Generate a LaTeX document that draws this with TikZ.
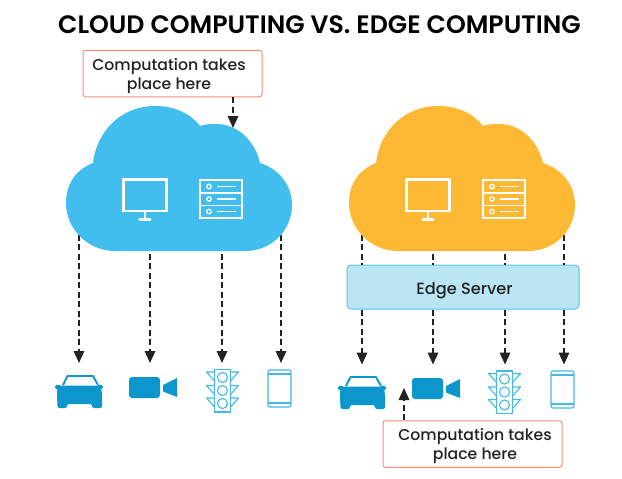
\documentclass[tikz,border=0pt]{standalone}
\usepackage{fontspec}
\setmainfont{Poppins Medium}
\newfontfamily\titlefont{Poppins SemiBold}
\usetikzlibrary{arrows.meta}
\definecolor{skyC}{HTML}{41BEEE}
\definecolor{amberC}{HTML}{FDB933}
\definecolor{inkC}{HTML}{222222}
\definecolor{iconC}{HTML}{0B96CC}
\definecolor{lineC}{HTML}{45B8E6}
\definecolor{coralC}{HTML}{F58F78}
\definecolor{edgeFill}{HTML}{B9E5F4}
\definecolor{edgeLine}{HTML}{5CC3E8}
\newcommand{\lowerA}{\rule{0pt}{17pt}}
\tikzset{
  flowline/.style={draw=inkC,line width=1.7pt,dash pattern=on 6pt off 3.5pt},
  flowarrow/.style={flowline,-{Triangle[width=10.5pt,length=12pt]}},
  callout/.style={draw=coralC,line width=1pt,fill=white,rounded corners=2.5pt,minimum width=179pt,minimum height=46.5pt,inner sep=0pt,align=center,text=inkC,font=\fontsize{15.7}{19}\selectfont},
  edgebox/.style={draw=edgeLine,line width=1pt,fill=edgeFill,rounded corners=4pt,minimum width=232pt,minimum height=44pt,inner sep=0pt,text=inkC,font=\fontsize{16.2}{19}\selectfont},
  whiteicon/.style={draw=white,line width=2.8pt},
  thinwhite/.style={draw=white,line width=1.3pt},
  lighticon/.style={draw=lineC,line width=1.1pt,line join=round},
  pics/cloudpic/.style={code={
    \fill[#1] (115,251) .. controls (88,251) and (66,229) .. (66,203)
      .. controls (66,183) and (77,169) .. (93,163)
      .. controls (97,130) and (122,106) .. (155,106)
      .. controls (174,106) and (190,113) .. (200,126)
      .. controls (205,124) and (211,124) .. (216,124)
      .. controls (238,124) and (255,141) .. (260,163)
      .. controls (279,169) and (292,185) .. (292,205)
      .. controls (292,230) and (272,251) .. (245,251) -- cycle;
    \draw[whiteicon] (123.5,179.5) rectangle (166.5,211);
    \draw[whiteicon] (145,212) -- (145,218);
    \draw[whiteicon,line width=3.2pt,line cap=round] (140,219.5) -- (150,219.5);
    \draw[thinwhite,line width=1.8pt] (200,180) rectangle (242,218) (200,193) -- (242,193) (200,205.5) -- (242,205.5);
    \foreach \yy in {186.5,199,211.5}{
      \draw[thinwhite] (209,\yy) circle (2.2);
      \draw[thinwhite] (217,\yy) -- (236,\yy);
    }
  }},
  pics/carpic/.style={code={
    \draw[iconC,line width=1.8pt,line join=round] (8,10) -- (12.5,1) -- (38,1) -- (43,10);
    \fill[iconC,rounded corners=1.5pt] (0,10) rectangle (6,14);
    \fill[iconC,rounded corners=1.5pt] (42,10) rectangle (48,14);
    \fill[iconC,rounded corners=2pt] (2.5,10.5) -- (45.5,10.5) -- (47,18) -- (47,33) -- (37,33) -- (37,29) -- (12,29) -- (12,33) -- (2.5,33) -- (2,18) -- cycle;
  }},
  pics/campic/.style={code={
    \fill[iconC,rounded corners=3pt] (0,0) rectangle (31,21);
    \fill[iconC] (34,8) -- (48,1) -- (48,20) -- (34,14.5) -- cycle;
  }},
  pics/lightpic/.style={code={
    \draw[lighticon] (8.5,0.5) rectangle (24.5,43);
    \foreach \yy in {8.5,21.5,34.5}{\draw[lighticon] (16.5,\yy) circle (5);}
    \foreach \yy in {3,16.5,29}{
      \draw[lighticon] (8.5,\yy) -- (0.5,\yy) -- (8.5,\yy+9);
      \draw[lighticon] (24.5,\yy) -- (32.5,\yy) -- (24.5,\yy+9);
    }
  }},
  pics/phonepic/.style={code={
    \draw[lighticon,rounded corners=2pt] (0,0) rectangle (23,37);
    \draw[lighticon] (0,4) -- (23,4) (0,33) -- (23,33);
  }}
}
\begin{document}
\begin{tikzpicture}[x=1pt,y=-1pt]
\useasboundingbox (0,0) rectangle (622,479);
\fill[white] (0,0) rectangle (622,479);
\node[text=black,font=\fontsize{25.2}{30}\titlefont] (title) at (319.5,25) {CLOUD COMPUTING VS. EDGE COMPUTING};

% connector ends
\foreach \nm/\xx in {a/79,b/150,c/222,d/281}{
  \coordinate (up\nm) at (\xx,225);
  \coordinate (dev\nm) at (\xx,363);
}
\foreach \nm/\xx in {e/362,f/433,g/505,h/564}{
  \coordinate (up\nm) at (\xx,225);
  \coordinate (dev\nm) at (\xx,364.5);
}
\coordinate (cloudTop) at (233,128);
\coordinate (camEdge) at (404,388);

% Edge server and callouts
\node[callout] (callA) at (172.5,73.5) {\hspace*{-7pt}\lowerA Computation takes\\\hspace*{-7pt}place here};
\node[callout] (callB) at (472.5,444) {\hspace*{5pt}\lowerA Computation takes\\\hspace*{5pt}place here};
\node[edgebox] (edge) at (463,287) {\hspace*{3pt}\rule{0pt}{19pt}Edge Server};

% connectors (behind clouds)
\foreach \nm in {a,b,c,d}{\draw[flowarrow] (up\nm) -- (dev\nm);}
\foreach \nm in {e,f,g,h}{
  \draw[flowline] (up\nm) -- (up\nm |- edge.north);
  \draw[flowarrow] (up\nm |- edge.south) -- (dev\nm);
}
\draw[flowarrow] (cloudTop |- callA.south) -- (cloudTop);
\draw[flowarrow] (camEdge |- callB.north) -- (camEdge);

% clouds
\pic at (0,0) {cloudpic=skyC};
\pic at (283,0) {cloudpic=amberC};

% devices
\pic at (55,375) {carpic};
\pic at (129,377) {campic};
\pic at (206,369) {lightpic};
\pic at (268,370) {phonepic};
\pic at (338,376) {carpic};
\pic at (412,378) {campic};
\pic at (488,370.5) {lightpic};
\pic at (551,371) {phonepic};
\end{tikzpicture}
\end{document}
